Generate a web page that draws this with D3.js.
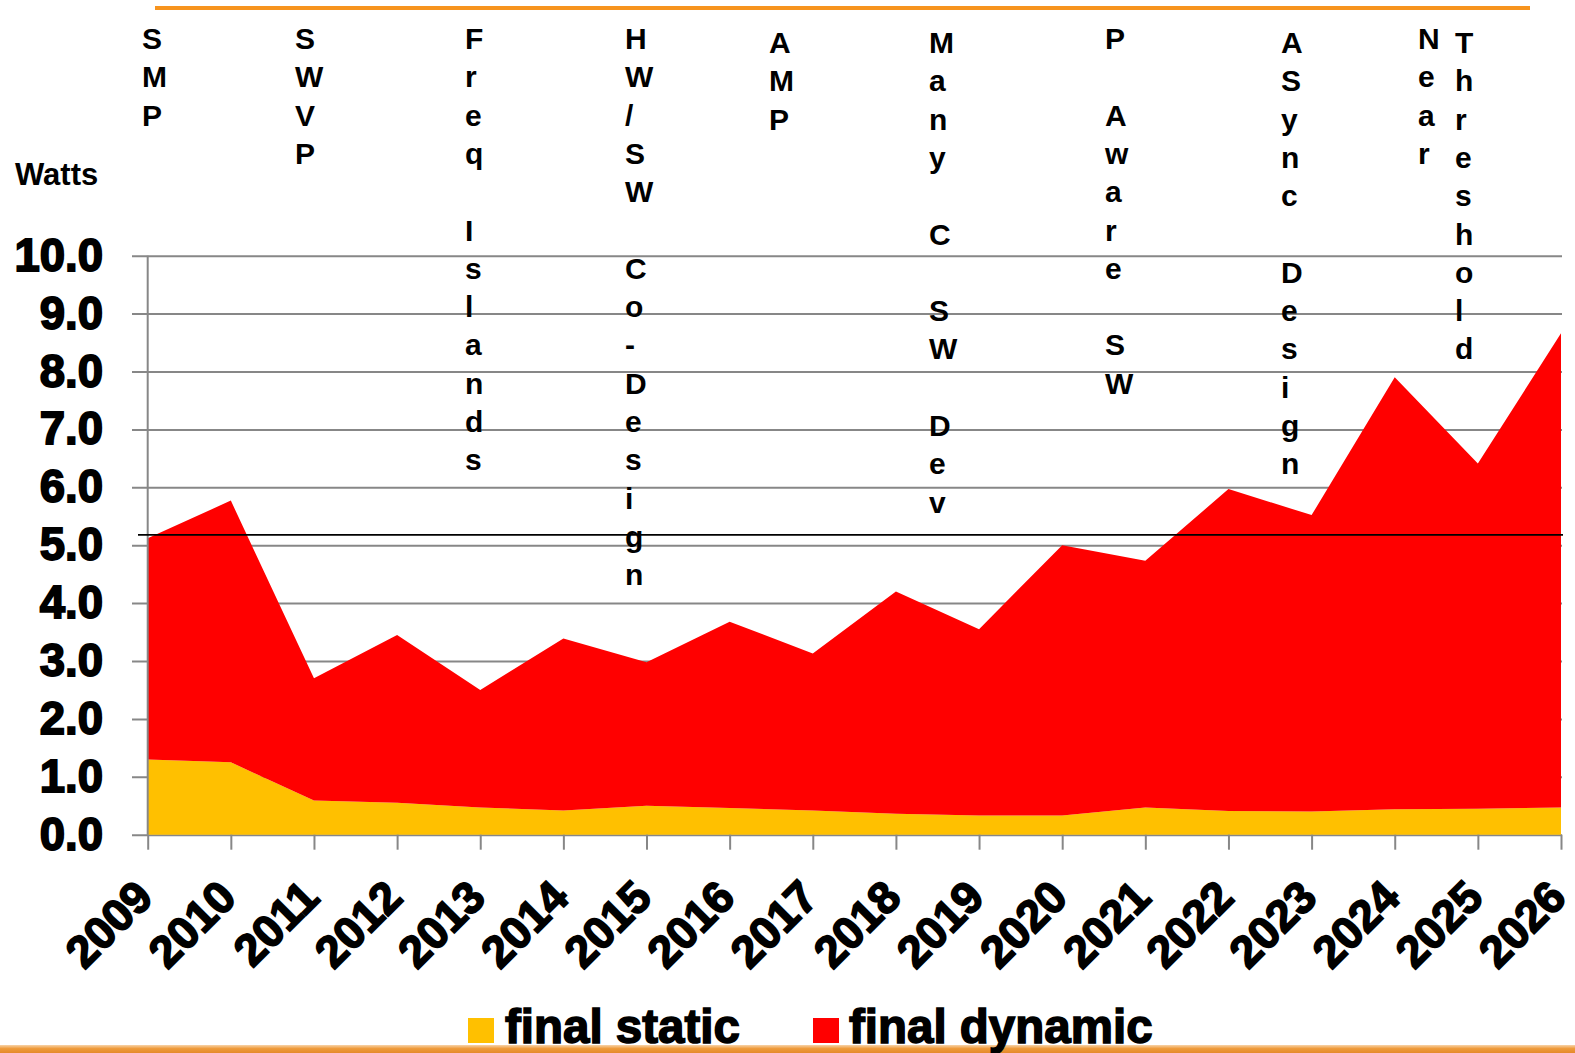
<!DOCTYPE html>
<html>
<head>
<meta charset="utf-8">
<script src="https://cdn.jsdelivr.net/npm/d3@7"></script>
<style>
  body { margin: 0; background: #fff; }
  text { font-family: "Liberation Sans", Arial, sans-serif; font-weight: bold; }
</style>
</head>
<body>
<div id="chart"></div>
<script>
// data
var years = [2009, 2010, 2011, 2012, 2013, 2014, 2015, 2016, 2017, 2018, 2019, 2020, 2021, 2022, 2023, 2024, 2025, 2026];
var finalStatic  = [1.30, 1.25, 0.59, 0.55, 0.47, 0.42, 0.50, 0.46, 0.42, 0.36, 0.33, 0.33, 0.47, 0.41, 0.40, 0.44, 0.45, 0.47];
var finalDynamic = [3.82, 4.52, 2.11, 2.90, 2.03, 2.97, 2.48, 3.22, 2.71, 3.84, 3.22, 4.67, 4.26, 5.56, 5.12, 7.46, 5.96, 8.19];
var yTicks = [0, 1, 2, 3, 4, 5, 6, 7, 8, 9, 10];
var seriesNames = ["final static", "final dynamic"];
var seriesColors = ["#FFC000", "#FF0000"];
var refLine = 5.18;

// vertical labels along the top
var annoText = ["SMP", "SWVP", "Freq Islands", "HW/SW Co-Design", "AMP", "Many C SW Dev", "P Aware SW", "ASync Design", "Near", "Threshold"];
var annoLeft = [142, 295, 465, 625, 769, 929, 1105, 1281, 1418, 1455];
var annoTop  = [49, 49, 49, 49, 53, 53, 49, 53, 49, 53];

var W = 1575, H = 1053;
var svg = d3.select("#chart").append("svg")
    .attr("width", W)
    .attr("height", H);

var x = d3.scaleLinear().domain([2009, 2026]).range([147.7, 1561]);
var y = d3.scaleLinear().domain([0, 10]).range([834.7, 255.7]);

// gridlines + y labels
var yAxis = svg.append("g")
    .attr("transform", "translate(132,0)")
    .call(d3.axisLeft(y).tickValues(yTicks).tickFormat(d3.format(".1f"))
        .tickSize(-(1562 - 132)).tickPadding(29));
yAxis.select(".domain").remove();
yAxis.selectAll("line").attr("stroke", "#878787").attr("stroke-width", 2);
yAxis.selectAll("text")
    .attr("font-size", 45.5)
    .attr("fill", "#000")
    .attr("stroke", "#000")
    .attr("stroke-width", 1.8)
    .attr("font-family", "'Liberation Sans', Arial, sans-serif");

// stacked areas
var rows = years.map(function(yr, i) {
    return {year: yr, "final static": finalStatic[i], "final dynamic": finalDynamic[i]};
});
var stacked = d3.stack().keys(seriesNames)(rows);
var area = d3.area()
    .x(function(d) { return x(d.data.year); })
    .y0(function(d) { return y(d[0]); })
    .y1(function(d) { return y(d[1]); });

svg.selectAll(".layer")
    .data(stacked)
    .enter()
    .append("path")
        .attr("class", "layer")
        .attr("d", area)
        .attr("fill", function(d, i) { return seriesColors[i]; });

// y axis line
svg.append("line")
    .attr("x1", x(2009)).attr("x2", x(2009))
    .attr("y1", y(10)).attr("y2", y(0))
    .attr("stroke", "#878787").attr("stroke-width", 2);

// x axis
var xAxis = svg.append("g")
    .attr("transform", "translate(0," + y(0) + ")")
    .call(d3.axisBottom(x).tickValues(years).tickFormat(d3.format("d")).tickSize(15));
xAxis.select(".domain").remove();
xAxis.selectAll("line").attr("stroke", "#878787").attr("stroke-width", 2);
xAxis.selectAll("text")
    .attr("text-anchor", "end")
    .attr("dy", null)
    .attr("y", null)
    .attr("transform", "translate(7,65) rotate(-45)")
    .attr("font-size", 45)
    .attr("fill", "#000")
    .attr("stroke", "#000")
    .attr("stroke-width", 1.7)
    .attr("font-family", "'Liberation Sans', Arial, sans-serif");

// reference line
svg.append("line")
    .attr("x1", 138).attr("x2", 1563)
    .attr("y1", y(refLine)).attr("y2", y(refLine))
    .attr("stroke", "#000").attr("stroke-width", 1.8);

// axis title
svg.append("text")
    .attr("x", 15).attr("y", 185)
    .attr("font-size", 31)
    .text("Watts");

// top annotations, one letter per line
annoText.forEach(function(s, i) {
    var t = svg.append("text")
        .attr("x", annoLeft[i])
        .attr("y", annoTop[i])
        .attr("font-size", 30);
    s.split("").forEach(function(ch, j) {
        t.append("tspan")
            .attr("x", annoLeft[i])
            .attr("y", annoTop[i] + j * 38.3)
            .text(ch === " " ? "\u00a0" : ch);
    });
});

// orange rules
svg.append("rect")
    .attr("x", 155).attr("y", 6)
    .attr("width", 1375).attr("height", 4)
    .attr("fill", "#F7941E");
var grad = svg.append("defs").append("linearGradient")
    .attr("id", "bot").attr("x1", 0).attr("x2", 0).attr("y1", 0).attr("y2", 1);
grad.append("stop").attr("offset", "0%").attr("stop-color", "#F8D3A8");
grad.append("stop").attr("offset", "45%").attr("stop-color", "#EE9A3A");
grad.append("stop").attr("offset", "100%").attr("stop-color", "#E5892A");
svg.append("rect")
    .attr("x", 0).attr("y", 1045)
    .attr("width", W).attr("height", 8)
    .attr("fill", "url(#bot)");

// legend
var legX = [468, 813];
var legTextX = [505, 849];
seriesNames.forEach(function(name, i) {
    svg.append("rect")
        .attr("x", legX[i]).attr("y", 1018)
        .attr("width", 26).attr("height", 25)
        .attr("fill", seriesColors[i]);
    svg.append("text")
        .attr("x", legTextX[i]).attr("y", 1043)
        .attr("font-size", 47.5)
        .attr("stroke", "#000")
        .attr("stroke-width", 1.5)
        .text(name);
});
</script>
</body>
</html>
